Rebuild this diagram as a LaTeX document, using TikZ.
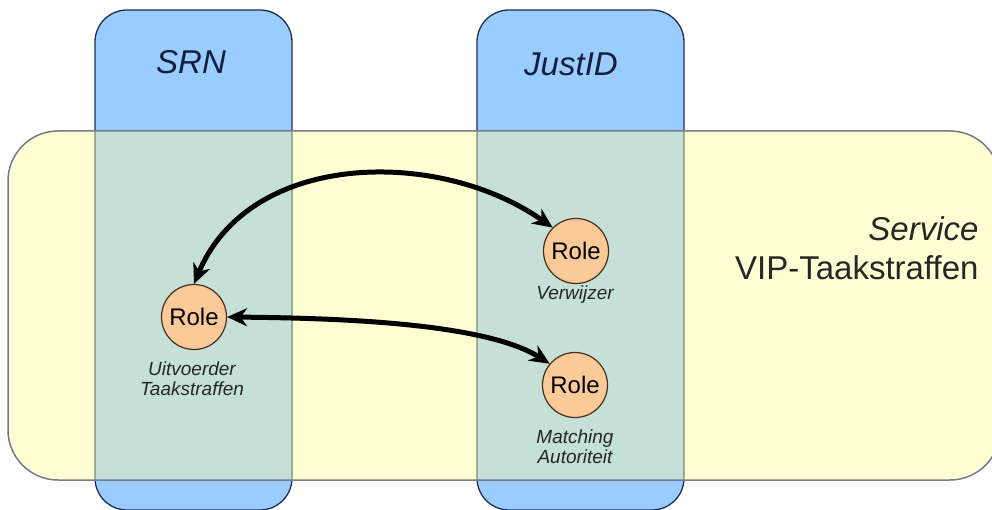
\documentclass[tikz,border=0pt]{standalone}
\usepackage{fontspec}
\setmainfont{Liberation Sans}
\usetikzlibrary{arrows.meta}

\definecolor{domainblue}{RGB}{153,204,255}
\definecolor{domainline}{RGB}{30,45,80}
\definecolor{servicefill}{RGB}{255,255,212}
\definecolor{serviceline}{RGB}{120,120,145}
\definecolor{overlapfill}{RGB}{197,224,214}
\definecolor{overlapline}{RGB}{125,138,112}
\definecolor{rolefill}{RGB}{252,202,152}
\definecolor{roleline}{RGB}{70,45,30}
\definecolor{navytext}{RGB}{20,30,60}

\tikzset{
  domainbox/.style={rounded corners=32pt, line width=1.3pt},
  servicebox/.style={rounded corners=50pt, line width=1.5pt},
  role/.style={circle, draw=roleline, line width=1.2pt, fill=rolefill,
    minimum size=65pt, inner sep=0pt, font=\fontsize{24}{24}\selectfont},
  rolelabel/.style={font=\fontsize{19}{20}\selectfont\itshape, align=center,
    text=black!85},
  biglabel/.style={font=\fontsize{33}{39}\selectfont},
  flow/.style={line width=5pt,
    {Stealth[length=20pt,width=18pt]}-{Stealth[length=20pt,width=18pt]}}
}

\begin{document}
\begin{tikzpicture}[x=1pt, y=-1pt]
  \useasboundingbox (0,0) rectangle (992,510);
  \draw[domainbox, fill=domainblue, draw=domainline] (95,10) rectangle (292,510);
  \draw[domainbox, fill=domainblue, draw=domainline] (477,10) rectangle (684,510);
  \fill[servicebox, fill=servicefill] (8,131) rectangle (1000,480);
  \begin{scope}
    \clip[rounded corners=50pt] (8,131) rectangle (1000,480);
    \draw[domainbox, fill=overlapfill, draw=overlapline] (95,10) rectangle (292,510);
    \draw[domainbox, fill=overlapfill, draw=overlapline] (477,10) rectangle (684,510);
  \end{scope}
  \draw[servicebox, draw=serviceline] (8,131) rectangle (1000,480);

  \draw (191,62) node[biglabel, text=navytext] (srn) {\itshape SRN};
  \draw (571,64) node[biglabel, text=navytext] (justid) {\itshape JustID};
  \draw (982,248) node[biglabel, anchor=east, align=right, text=black!85] (service)
    {\itshape Service\\VIP-Taakstraffen};

  \draw (194,317) node[role] (uitvoerder) {Role};
  \draw (576,251) node[role] (verwijzer) {Role};
  \draw (575,385) node[role] (matching) {Role};
  \draw (192,379) node[rolelabel] (uitvoerderlabel) {Uitvoerder\\Taakstraffen};
  \draw (575,295) node[rolelabel] (verwijzerlabel) {Verwijzer};
  \draw (575,447) node[rolelabel] (matchinglabel) {Matching\\Autoriteit};

  \draw[flow] (uitvoerder.north) .. controls (250,150) and (440,148) .. (verwijzer.135);
  \draw[flow] (uitvoerder.east) .. controls (330,318) and (484,322) .. (matching.140);
\end{tikzpicture}
\end{document}
